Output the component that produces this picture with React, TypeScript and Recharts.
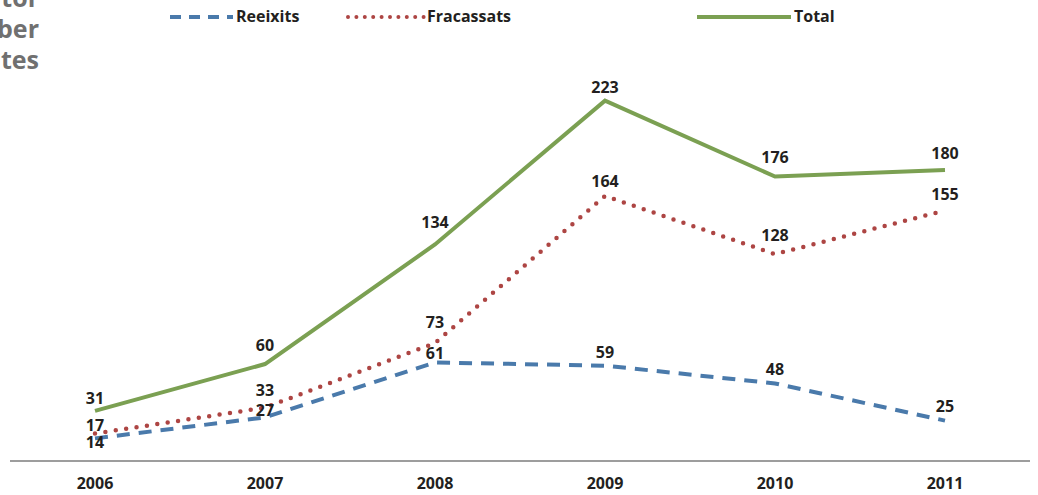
import { LineChart, Line, XAxis, YAxis, Legend, LabelList } from "recharts";

const years = ["2006", "2007", "2008", "2009", "2010", "2011"];
const reeixits = [14, 27, 61, 59, 48, 25];
const fracassats = [17, 33, 73, 164, 128, 155];
const total = [31, 60, 134, 223, 176, 180];
const titleLines = ["tor", "ber", "tes"];

const BLUE = "#4a7aab";
const RED = "#ad4543";
const GREEN = "#7ba052";
const FONT = "'Open Sans', 'DejaVu Sans', sans-serif";

const data = years.map((y, i) => ({
  year: y,
  reeixits: reeixits[i],
  fracassats: fracassats[i],
  total: total[i],
}));

// baseline offsets of the value labels, relative to the point
const blueOffsets = [10, -1, -3, -8, -8, -9];
const redOffsets = [-3, -12, -15, -9, -13, -11];
const totalOffsets = [-7, -13, -16, -8, -14, -11];

const makeLabel = (offsets: number[]) => (props: any) => {
  const { x, y, value, index } = props;
  return (
    <text
      x={x}
      y={y + offsets[index]}
      textAnchor="middle"
      fontFamily={FONT}
      fontWeight={700}
      fontSize={16}
      fill="#231f20"
    >
      {value}
    </text>
  );
};

const LegendContent = () => (
  <svg width={1038} height={30} style={{ position: "absolute", left: 0, top: 0 }}>
    <g fontFamily={FONT} fontWeight={700} fontSize={16} fill="#231f20">
      <line x1={170} y1={17} x2={233} y2={17} stroke={BLUE} strokeWidth={4} strokeDasharray="11 8" />
      <text x={236} y={22}>Reeixits</text>
      <line x1={348} y1={17} x2={424} y2={17} stroke={RED} strokeWidth={4} strokeDasharray="0 8.4" strokeLinecap="round" />
      <text x={427} y={22}>Fracassats</text>
      <line x1={697} y1={17} x2={791} y2={17} stroke={GREEN} strokeWidth={4} />
      <text x={794} y={22}>Total</text>
    </g>
  </svg>
);

export default function App() {
  return (
    <div style={{ position: "absolute", left: 0, top: 0, width: 1038, height: 495, background: "#fff" }}>
      <svg width={60} height={80} style={{ position: "absolute", left: 0, top: 0 }}>
        {titleLines.map((t, i) => (
          <text
            key={t}
            x={39}
            y={7 + i * 31}
            textAnchor="end"
            fontFamily={FONT}
            fontWeight={700}
            fontSize={25}
            fill="#707070"
          >
            {t}
          </text>
        ))}
      </svg>
      <LineChart
        width={1038}
        height={495}
        data={data}
        margin={{ top: 57, left: 10, right: 8, bottom: 0 }}
      >
        <Legend verticalAlign="top" content={<LegendContent />} wrapperStyle={{ top: 0, left: 0 }} />
        <XAxis
          dataKey="year"
          height={34}
          padding={{ left: 85, right: 85 }}
          axisLine={{ stroke: "#9d9d9d", strokeWidth: 2 }}
          tickLine={false}
          tick={{ fontFamily: FONT, fontWeight: 700, fontSize: 16, fill: "#231f20" }}
          tickMargin={11}
        />
        <YAxis hide domain={[0, 250]} />
        <Line
          dataKey="reeixits"
          stroke={BLUE}
          strokeWidth={4}
          strokeDasharray="13 9"
          dot={false}
          isAnimationActive={false}
        >
          <LabelList dataKey="reeixits" content={makeLabel(blueOffsets)} />
        </Line>
        <Line
          dataKey="fracassats"
          stroke={RED}
          strokeWidth={4.5}
          strokeDasharray="0 10.5"
          strokeLinecap="round"
          dot={false}
          isAnimationActive={false}
        >
          <LabelList dataKey="fracassats" content={makeLabel(redOffsets)} />
        </Line>
        <Line
          dataKey="total"
          stroke={GREEN}
          strokeWidth={4}
          dot={false}
          isAnimationActive={false}
        >
          <LabelList dataKey="total" content={makeLabel(totalOffsets)} />
        </Line>
      </LineChart>
    </div>
  );
}
